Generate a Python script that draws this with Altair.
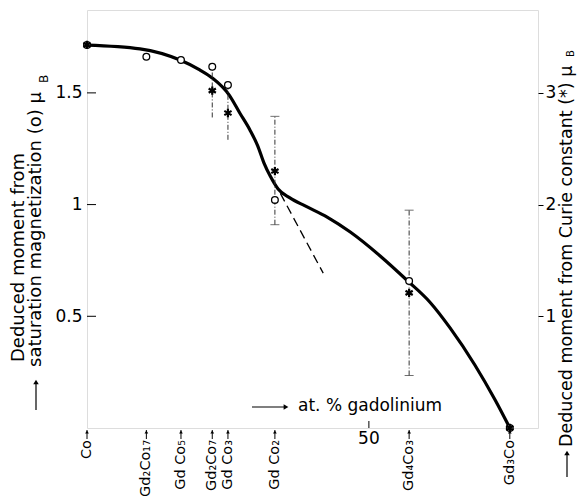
import altair as alt
import pandas as pd

# ---------------- data ----------------
compounds = ["Co", "Gd₂Co₁₇", "Gd Co₅", "Gd₂Co₇", "Gd Co₃", "Gd Co₂", "Gd₄Co₃", "Gd₃Co"]
compound_pct = [0.0, 10.53, 16.67, 22.22, 25.0, 33.33, 57.14, 75.0]

# moment deduced from saturation magnetization (left axis, muB)
sat_moment = [1.714, 1.662, 1.647, 1.617, 1.535, 1.021, 0.658, 0.0]

# moment deduced from Curie constant (right axis, muB)
curie_pct = [0.0, 22.22, 25.0, 33.33, 57.14, 75.0]
curie_moment = [3.43, 3.02, 2.82, 2.30, 1.21, 0.0]
curie_err_lo = [None, 2.78, 2.58, 1.82, 0.47, None]
curie_err_hi = [None, 3.25, 3.06, 2.79, 1.95, None]
curie_capped = [False, False, False, True, True, False]

# smooth curve (left axis units)
curve_pct = [0.0, 9.4, 16.5, 20.0, 22.2, 25.2, 27.1, 28.9, 30.3, 31.4, 32.5, 33.9,
             36.0, 38.7, 42.6, 46.7, 52.0, 56.9, 60.8, 64.4, 68.8, 72.4, 75.0]
curve_moment = [1.714, 1.697, 1.647, 1.603, 1.567, 1.491, 1.410, 1.334, 1.262, 1.186, 1.128, 1.070,
                1.030, 0.994, 0.944, 0.877, 0.770, 0.658, 0.564, 0.448, 0.282, 0.125, 0.0]

# dashed extrapolation
dash_pct = [34.3, 41.9]
dash_moment = [1.05, 0.693]

left_ticks = [0.5, 1.0, 1.5]
right_ticks = [1, 2, 3]
pct_tick = [50]

# ---------------- layout ----------------
W, H = 451, 418
XMAX = 80
YMAX = 1.871
RATIO = 2.0  # right axis units per left axis unit
FONT = "DejaVu Sans"
STAR = "M0,-1L0,1M-0.866,-0.5L0.866,0.5M-0.866,0.5L0.866,-0.5"

xs = alt.Scale(domain=[0, XMAX], nice=False, zero=False)
yl = alt.Scale(domain=[0, YMAX], nice=False, zero=False)

curve_df = pd.DataFrame({"pct": curve_pct, "m": curve_moment})
dash_df = pd.DataFrame({"pct": dash_pct, "m": dash_moment})
sat_df = pd.DataFrame({"pct": compound_pct, "m": sat_moment})
comp_df = pd.DataFrame({"pct": compound_pct, "name": compounds})
curie_df = pd.DataFrame({"pct": curie_pct, "m": curie_moment,
                         "lo": curie_err_lo, "hi": curie_err_hi, "cap": curie_capped})
err_df = curie_df.dropna(subset=["lo"])
cap_df = err_df[err_df["cap"]]
lt_df = pd.DataFrame({"v": left_ticks})
pt_df = pd.DataFrame({"pct": pct_tick, "t": [str(v) for v in pct_tick]})
one = pd.DataFrame({"k": [0]})


def X(f="pct"):
    return alt.X(f"{f}:Q", scale=xs, axis=None)


def Y(f, axis=None):
    return alt.Y(f"{f}:Q", scale=yl, axis=axis)


left_axis = alt.Axis(values=left_ticks, labelExpr="datum.value + ''", ticks=False, domain=False,
                     grid=False, title=None, labelFontSize=17, labelPadding=5, labelColor="black",
                     labelFont=FONT, orient="left")
right_axis = alt.Axis(values=[v / RATIO for v in right_ticks],
                      labelExpr=f"round(datum.value * {RATIO}) + ''", orient="right", tickSize=5,
                      tickColor="black", tickWidth=1, domain=False, grid=False, title=None,
                      labelFontSize=17, labelPadding=2, labelColor="black", labelFont=FONT)

curve = alt.Chart(curve_df).mark_line(color="black", strokeWidth=3.2, interpolate="monotone").encode(
    x=X(), y=Y("m", left_axis))
dash = alt.Chart(dash_df).mark_line(color="black", strokeWidth=1.3, strokeDash=[9, 5]).encode(
    x=X(), y=Y("m"))
circles = alt.Chart(sat_df).mark_point(shape="circle", size=45, filled=True, fill="white",
                                       stroke="black", strokeWidth=1.3, opacity=1).encode(
    x=X(), y=Y("m"))
lticks = alt.Chart(lt_df).mark_rule(color="black", strokeWidth=1).encode(
    y=Y("v"), x=alt.value(0), x2=alt.value(9))

# Curie-constant layers (converted onto the left scale)
conv = dict(ml=f"datum.m / {RATIO}", lol=f"datum.lo / {RATIO}", hil=f"datum.hi / {RATIO}")
errs = alt.Chart(err_df).transform_calculate(**conv).mark_rule(
    color="#333333", strokeWidth=1, strokeDash=[5, 2, 1, 2]).encode(
    x=X(), y=Y("lol"), y2="hil:Q")
cap_lo = alt.Chart(cap_df).transform_calculate(**conv).mark_tick(
    orient="horizontal", size=9, thickness=1, color="#333333").encode(x=X(), y=Y("lol"))
cap_hi = alt.Chart(cap_df).transform_calculate(**conv).mark_tick(
    orient="horizontal", size=9, thickness=1, color="#333333").encode(x=X(), y=Y("hil"))
stars = alt.Chart(curie_df).transform_calculate(**conv).mark_point(
    shape=STAR, size=70, filled=False, stroke="black", strokeWidth=2.2, opacity=1).encode(
    x=X(), y=Y("ml", right_axis))

# x-axis compound arrows and labels
comp_shaft = alt.Chart(comp_df).mark_rule(color="black", strokeWidth=1).encode(
    x=X(), y=alt.value(H + 2), y2=alt.value(H + 11))
comp_head = alt.Chart(comp_df).mark_point(shape="triangle-up", filled=True, color="black",
                                          size=14, opacity=1).encode(x=X(), y=alt.value(H + 4))
comp_text = alt.Chart(comp_df).mark_text(angle=270, align="right", baseline="middle",
                                         fontSize=14.5, font=FONT, color="black").encode(
    x=X(), y=alt.value(H + 12), text="name:N")
p_tick = alt.Chart(pt_df).mark_rule(color="black", strokeWidth=1).encode(
    x=X(), y=alt.value(H - 7), y2=alt.value(H))
p_text = alt.Chart(pt_df).mark_text(fontSize=17, font=FONT, baseline="middle", color="black").encode(
    x=X(), y=alt.value(H + 11), text="t:N")

# x annotation
x_shaft = alt.Chart(one).mark_rule(color="black", strokeWidth=1.2).encode(
    x=alt.value(165), x2=alt.value(198), y=alt.value(397))
x_head = alt.Chart(one).mark_point(shape="triangle-right", filled=True, color="black", size=30,
                                   opacity=1).encode(x=alt.value(199), y=alt.value(397))
x_text = alt.Chart(one).mark_text(text="at. % gadolinium", fontSize=17, font=FONT, align="left",
                                  baseline="middle", color="black").encode(
    x=alt.value(211), y=alt.value(396))

# left title
lt1 = alt.Chart(one).mark_text(text="Deduced moment from", angle=270, align="left", baseline="middle",
                               fontSize=18, font=FONT, color="black").encode(
    x=alt.value(-68), y=alt.value(352))
lt2 = alt.Chart(one).mark_text(text="saturation magnetization (o) μ", angle=270, align="left",
                               baseline="middle", fontSize=18, font=FONT, color="black").encode(
    x=alt.value(-51), y=alt.value(357))
lt2b = alt.Chart(one).mark_text(text="B", angle=270, align="left", baseline="middle",
                                fontSize=12, font=FONT, color="black").encode(
    x=alt.value(-43), y=alt.value(73))
l_shaft = alt.Chart(one).mark_rule(color="black", strokeWidth=1.2).encode(
    x=alt.value(-51), y=alt.value(400), y2=alt.value(373))
l_head = alt.Chart(one).mark_point(shape="triangle-up", filled=True, color="black", size=30,
                                   opacity=1).encode(x=alt.value(-51), y=alt.value(372))

# right title
rt = alt.Chart(one).mark_text(text="Deduced moment from Curie constant (*)  μ", angle=270, align="left",
                              baseline="middle", fontSize=17.5, font=FONT, color="black").encode(
    x=alt.value(480), y=alt.value(437))
rtb = alt.Chart(one).mark_text(text="B", angle=270, align="left", baseline="middle",
                               fontSize=10, font=FONT, color="black").encode(
    x=alt.value(484), y=alt.value(47))
r_shaft = alt.Chart(one).mark_rule(color="black", strokeWidth=1.2).encode(
    x=alt.value(480), y=alt.value(467), y2=alt.value(444))
r_head = alt.Chart(one).mark_point(shape="triangle-up", filled=True, color="black", size=30,
                                   opacity=1).encode(x=alt.value(480), y=alt.value(443))

chart = alt.layer(
    curve, dash, errs, cap_lo, cap_hi, circles, stars, lticks,
    comp_shaft, comp_head, comp_text, p_tick, p_text,
    x_shaft, x_head, x_text, lt1, lt2, lt2b, l_shaft, l_head,
    rt, rtb, r_shaft, r_head,
).resolve_axis(y="independent").properties(
    width=W, height=H, autosize="none",
    padding={"left": 79, "top": 2, "right": 39, "bottom": 68},
).configure_view(stroke="black", strokeWidth=1.5).configure(font=FONT, background="white")

chart.save("out.html", embed_options={"renderer": "svg", "actions": False})
